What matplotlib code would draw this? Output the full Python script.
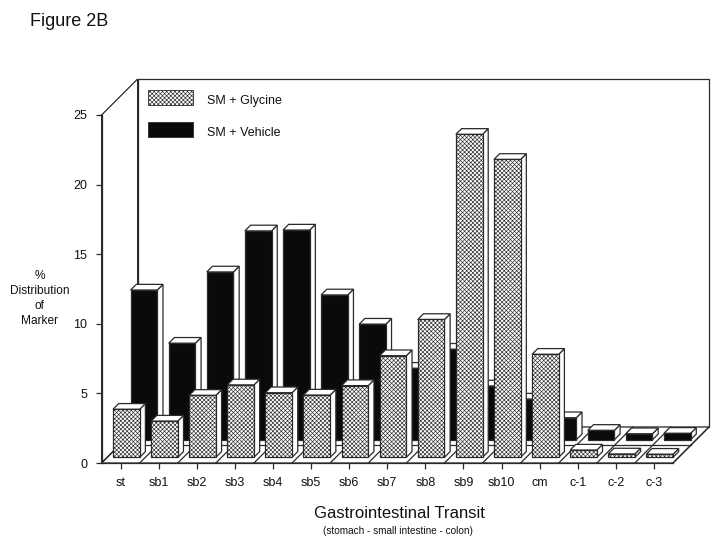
import matplotlib
matplotlib.use("Agg")
import matplotlib.pyplot as plt
from matplotlib.patches import Polygon, Rectangle

plt.rcParams['font.family'] = ['Liberation Sans', 'DejaVu Sans']
plt.rcParams['hatch.linewidth'] = 0.45
plt.rcParams['hatch.color'] = '#111111'

categories = ['st', 'sb1', 'sb2', 'sb3', 'sb4', 'sb5', 'sb6', 'sb7',
              'sb8', 'sb9', 'sb10', 'cm', 'c-1', 'c-2', 'c-3']
glycine = [3.45, 2.6, 4.45, 5.2, 4.64, 4.47, 5.15, 7.3,
           9.9, 23.2, 21.4, 7.4, 0.52, 0.24, 0.22]
vehicle = [10.75, 6.93, 12.05, 15.0, 15.06, 10.4, 8.3, 5.13,
           6.5, 3.86, 2.92, 1.58, 0.67, 0.43, 0.46]
y_ticks = [0, 5, 10, 15, 20, 25]

LINE = '#2a2a2a'
HATCH = 'xxxxxxxx'

W, H = 723, 549
fig = plt.figure(figsize=(W / 100, H / 100), dpi=100)
# axes box is the front plane of the 3d look
left, right, bottom, top = 101.6, 673.0, 463.0, 115.0
ax = fig.add_axes([left / W, 1 - bottom / H, (right - left) / W, (bottom - top) / H])
ax.set_xlim(0, 15)
ax.set_ylim(0, 25)
ax.patch.set_visible(False)

# pixel -> data unit factors
px_x = 15 / (right - left)
px_y = 25 / (bottom - top)
DEPTH = 36


def shift(px):
    return px * px_x, px * px_y


def poly(points, **kw):
    ax.add_patch(Polygon(points, closed=True, clip_on=False, edgecolor=LINE,
                         linewidth=kw.pop('linewidth', 0.9), **kw))


def bar3d(i, value, depth_px, width=0.7, hatch=None, color='white'):
    dx, dy = shift(depth_px)
    bx, by = shift(5.7)
    x0 = i + 0.5 - width / 2 + dx
    x1 = x0 + width
    y0 = dy
    y1 = y0 + value
    # side and top faces are white, only the front is filled
    poly([(x1, y0), (x1 + bx, y0 + by), (x1 + bx, y1 + by), (x1, y1)],
         facecolor='white', zorder=3)
    poly([(x0, y1), (x1, y1), (x1 + bx, y1 + by), (x0 + bx, y1 + by)],
         facecolor='white', zorder=3)
    poly([(x0, y0), (x1, y0), (x1, y1), (x0, y1)],
         facecolor=color, hatch=hatch, zorder=3)


ddx, ddy = shift(DEPTH)

# back wall and side wall
poly([(ddx, ddy), (15 + ddx, ddy), (15 + ddx, 25 + ddy), (ddx, 25 + ddy)],
     facecolor='white', zorder=1)
poly([(0, 0), (ddx, ddy), (ddx, 25 + ddy), (0, 25)], facecolor='white', zorder=1)

# floor
poly([(0, 0), (15, 0), (15 + ddx, ddy), (ddx, ddy)], facecolor='white', zorder=1)
for i in range(16):
    ax.plot([i, i + ddx], [0, ddy], color=LINE, lw=0.9, clip_on=False, zorder=2)
mx, my = shift(18)
ax.plot([mx, 15 + mx], [my, my], color=LINE, lw=0.9, clip_on=False, zorder=2)

# back row first so the front row covers it
for i, v in enumerate(vehicle):
    bar3d(i, v, 23.3, color='#0a0a0a')
for i, v in enumerate(glycine):
    bar3d(i, v, 5.7, hatch=HATCH)

for s in ['top', 'right']:
    ax.spines[s].set_visible(False)
for s in ['left', 'bottom']:
    ax.spines[s].set_color(LINE)
    ax.spines[s].set_linewidth(0.9)
ax.set_xticks([i + 0.5 for i in range(len(categories))])
ax.set_xticklabels(categories, fontsize=9)
ax.set_yticks(y_ticks)
ax.tick_params(axis='both', length=4, width=0.9, color=LINE, labelsize=9, labelcolor='#111111')
ax.tick_params(axis='x', pad=6)
ax.tick_params(axis='y', pad=6.5)

# legend swatches in figure pixels
for y0, kw in [(90, dict(facecolor='white', hatch=HATCH)), (122, dict(facecolor='#0a0a0a'))]:
    fig.add_artist(Rectangle((148 / W, 1 - (y0 + 15) / H), 45 / W, 15 / H,
                             transform=fig.transFigure, edgecolor=LINE, linewidth=0.6, **kw))
fig.text(207 / W, 1 - 101 / H, 'SM + Glycine', fontsize=9, va='center', color='#111111')
fig.text(207 / W, 1 - 133.5 / H, 'SM + Vehicle', fontsize=9, va='center', color='#111111')

fig.text(29.5 / W, 1 - 22 / H, 'Figure 2B', fontsize=13, va='center', color='#111111')
for y, t in zip([276, 291, 306, 321], ['%', 'Distribution', 'of', 'Marker']):
    fig.text(39.7 / W, 1 - y / H, t, fontsize=8.6, ha='center', va='center', color='#111111')
fig.text(399 / W, 1 - 514 / H, 'Gastrointestinal Transit', fontsize=12, ha='center', va='center', color='#111111')
fig.text(398 / W, 1 - 531 / H, '(stomach - small intestine - colon)', fontsize=7.2, ha='center', va='center', color='#111111')

fig.savefig('out.png', dpi=100)
